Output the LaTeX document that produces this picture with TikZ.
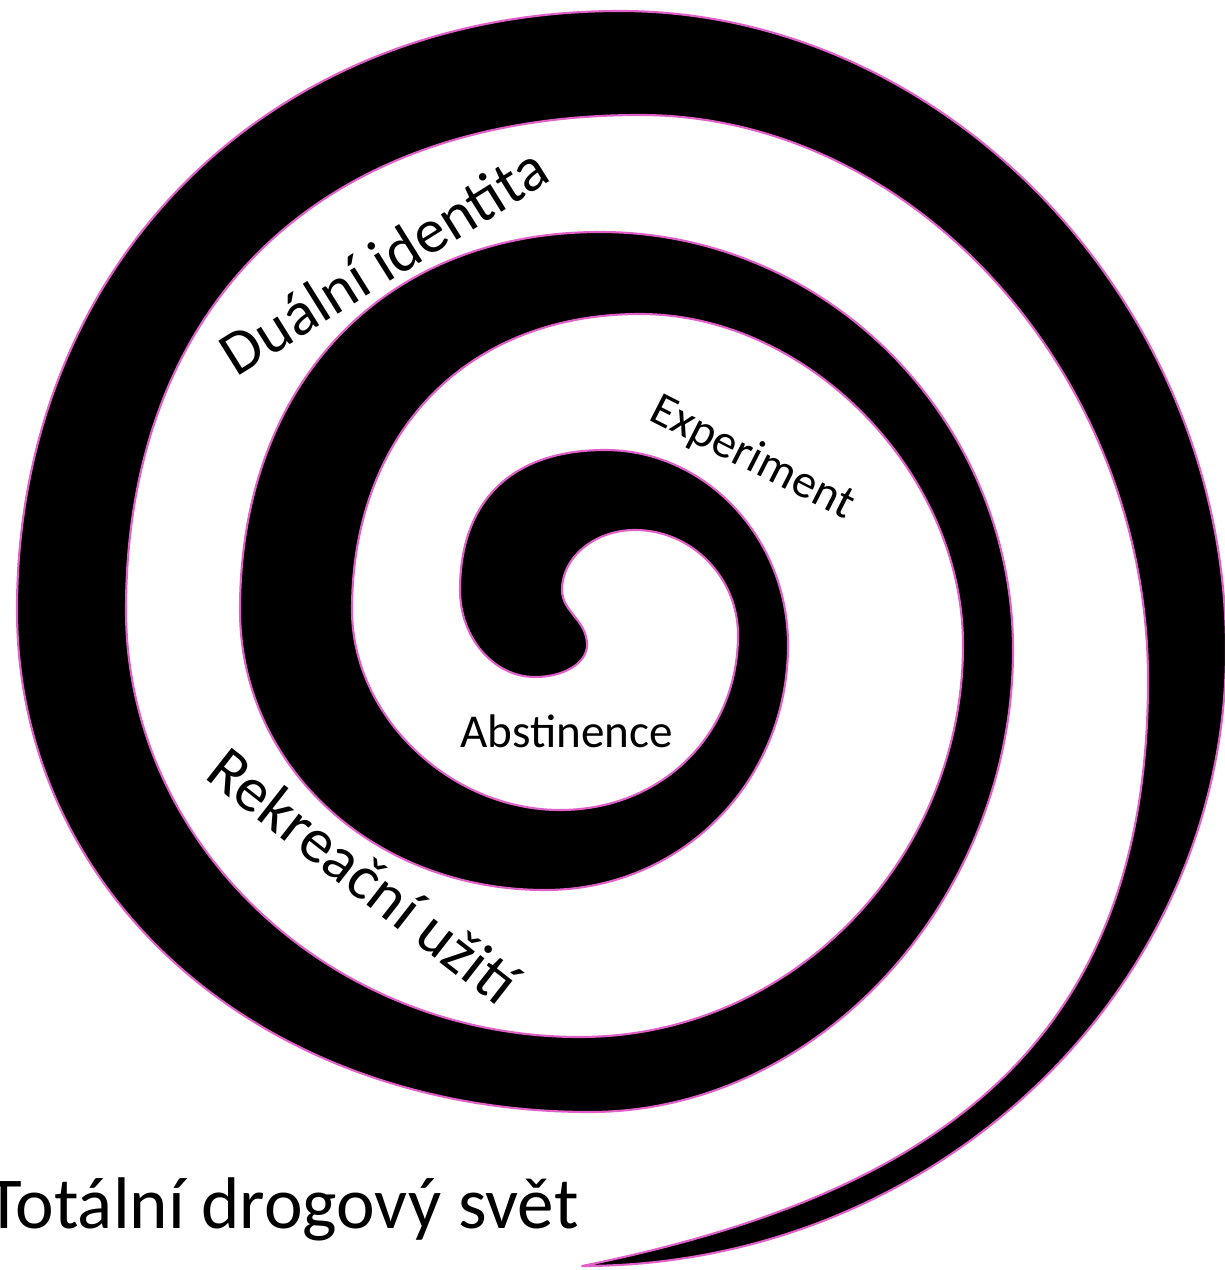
\documentclass[tikz,border=0pt]{standalone}
\usepackage{fontspec}
\setmainfont{Carlito}
\usetikzlibrary{calc}
\definecolor{spiraledge}{RGB}{224,96,200}

% quarter of an ellipse from one extreme point to the next
\newcommand{\quarterto}[4]{.. controls ($(#1)!#4!(#3)$) and ($(#2)!#4!(#3)$) .. (#2)}

\begin{document}
\begin{tikzpicture}[
    x=0.01cm, y=-0.01cm,
    band/.style={fill=black, draw=spiraledge, line width=0.6pt, line join=round},
    lbl/.style={inner sep=0pt, anchor=base west, text=black}
]
    \useasboundingbox (0,0) rectangle (1225,1270);

    % Extremes of the outer edge
    \coordinate (o0) at (535,677);
    \coordinate (o1) at (460,590);
    \coordinate (o2) at (605,450);
    \coordinate (o3) at (788,645);
    \coordinate (o4) at (545,890);
    \coordinate (o5) at (240,610);
    \coordinate (o6) at (600,232);
    \coordinate (o7) at (1013,650);
    \coordinate (o8) at (590,1112);
    \coordinate (o9) at (17,610);
    \coordinate (o10) at (620,11);
    \coordinate (o11) at (1226,650);
    \coordinate (tip) at (582,1266);
    % Extremes of the inner edge
    \coordinate (i0) at (562,590);
    \coordinate (i1) at (635,530);
    \coordinate (i2) at (738,635);
    \coordinate (i3) at (560,810);
    \coordinate (i4) at (352,610);
    \coordinate (i5) at (640,314);
    \coordinate (i6) at (963,645);
    \coordinate (i7) at (580,1037);
    \coordinate (i8) at (126,610);
    \coordinate (i9) at (640,115);
    \coordinate (i10) at (1148,680);
    \coordinate (cap) at (587,645);

    % Spiral
    \filldraw[band] (o0)
        \quarterto{o0}{o1}{o1|-o0}{0.55}
        \quarterto{o1}{o2}{o1|-o2}{0.64}
        \quarterto{o2}{o3}{o3|-o2}{0.55}
        \quarterto{o3}{o4}{o3|-o4}{0.56}
        \quarterto{o4}{o5}{o5|-o4}{0.56}
        \quarterto{o5}{o6}{o5|-o6}{0.60}
        \quarterto{o6}{o7}{o7|-o6}{0.55}
        \quarterto{o7}{o8}{o7|-o8}{0.54}
        \quarterto{o8}{o9}{o9|-o8}{0.57}
        \quarterto{o9}{o10}{o9|-o10}{0.58}
        \quarterto{o10}{o11}{o11|-o10}{0.54}
        \quarterto{o11}{tip}{o11|-tip}{0.55}
        .. controls (942,1193) and (1148,1040) .. (i10)
        \quarterto{i10}{i9}{i10|-i9}{0.54}
        \quarterto{i9}{i8}{i8|-i9}{0.62}
        \quarterto{i8}{i7}{i8|-i7}{0.55}
        \quarterto{i7}{i6}{i6|-i7}{0.55}
        \quarterto{i6}{i5}{i6|-i5}{0.52}
        \quarterto{i5}{i4}{i4|-i5}{0.60}
        \quarterto{i4}{i3}{i4|-i3}{0.53}
        \quarterto{i3}{i2}{i2|-i3}{0.57}
        \quarterto{i2}{i1}{i2|-i1}{0.55}
        \quarterto{i1}{i0}{i0|-i1}{0.55}
        .. controls (562,612) and (587,620) .. (cap)
        .. controls (587,663) and (564,677) .. (o0) -- cycle;

    % Labels
    \node (dual) [lbl, rotate=32, font=\fontsize{17.8}{20}\selectfont] at (236,378) {Duální identita};
    \node (exper) [lbl, rotate=-27, font=\fontsize{13.5}{16}\selectfont] at (647,419) {Experiment};
    \node (abst) [lbl, font=\fontsize{13.4}{16}\selectfont] at (460,747) {Abstinence};
    \node (rekr) [lbl, rotate=-38, font=\fontsize{18}{21}\selectfont] at (203,777) {Rekreační užití};
    \node (total) [lbl, font=\fontsize{20.8}{24}\selectfont] at (-14,1228) {Totální drogový svět};
\end{tikzpicture}
\end{document}
